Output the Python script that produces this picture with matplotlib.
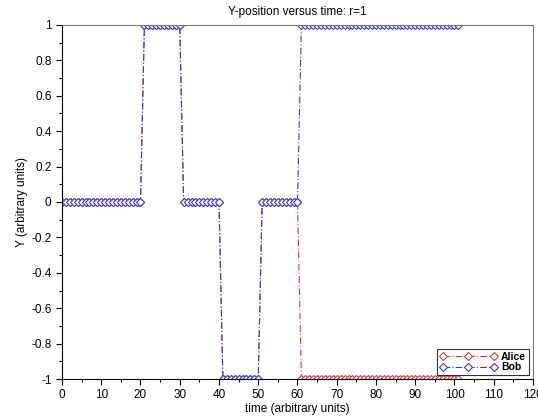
import numpy as np
import matplotlib.pyplot as plt
from matplotlib.ticker import MultipleLocator

plt.rcParams['font.family'] = ['Liberation Sans', 'DejaVu Sans']

# Data: one sample per time unit
time = list(range(0, 102))
common = [0] * 21 + [1] * 10 + [0] * 10 + [-1] * 10 + [0] * 10
alice_y = common + [-1] * 41
bob_y = common + [1] * 41

alice_color = '#d03a3a'
bob_color = '#3a3ac8'

fig = plt.figure(figsize=(5.38, 4.2), dpi=100)
ax = fig.add_axes([0.1152, 0.0976, 0.8755, 0.8429])

dash = (0, (6, 2, 1, 2))
ax.plot(time, alice_y, color=alice_color, linestyle=dash, linewidth=0.8,
        marker='D', markersize=3.8, markerfacecolor='white',
        markeredgewidth=0.8, label='Alice')
ax.plot(time, bob_y, color=bob_color, linestyle=dash, linewidth=0.8,
        marker='D', markersize=3.8, markerfacecolor='white',
        markeredgewidth=0.8, label='Bob')

ax.set_xlim(0, 120)
ax.set_ylim(-1, 1)
ax.xaxis.set_major_locator(MultipleLocator(10))
ax.xaxis.set_minor_locator(MultipleLocator(5))
ax.yaxis.set_major_locator(MultipleLocator(0.2))
ax.yaxis.set_minor_locator(MultipleLocator(0.1))
ax.yaxis.set_major_formatter(plt.FuncFormatter(lambda v, p: f'{round(v, 1):g}'))

ax.tick_params(which='major', length=4, width=0.8, labelsize=8.5, colors='black')
ax.tick_params(which='minor', length=2, width=0.8)
for side in ['top', 'right']:
    ax.spines[side].set_color('#777777')
for side in ['left', 'bottom']:
    ax.spines[side].set_color('black')

ax.set_title('Y-position versus time: r=1', fontsize=8.5, pad=7)
ax.set_xlabel('time (arbitrary units)', fontsize=8.5, labelpad=1)
ax.set_ylabel('Y (arbitrary units)', fontsize=8.5, labelpad=2)

leg = ax.legend(loc='lower right', prop={'weight': 'bold', 'size': 7.5},
                frameon=True, fancybox=False, edgecolor='black',
                borderpad=0.25, handlelength=5.5, numpoints=3,
                labelspacing=0.05, borderaxespad=0.4, handletextpad=0.4)
leg.get_frame().set_linewidth(0.8)

fig.savefig('out.png', dpi=100)
